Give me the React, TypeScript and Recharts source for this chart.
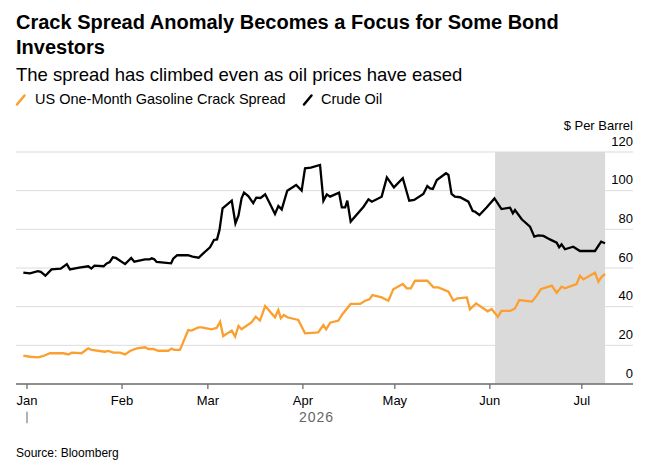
import React from "react";
import { LineChart, Line, XAxis, YAxis, CartesianGrid, ReferenceArea } from "recharts";

// x values are days since Jan 1, 2026
const crudeDays = [-1.2, 1, 3.5, 4.5, 6, 8, 11, 13, 14, 17, 20, 21, 22, 25, 26, 27, 28, 29, 32, 34, 35, 38.5, 40, 40.7, 41.5, 42.3, 47, 47.7, 49, 52.5, 54, 56, 57.5, 59.7, 61, 62, 62.8, 63.8, 66.8, 68, 69, 70, 70.8, 72.2, 73.8, 74.8, 76.2, 77.7, 79.3, 80.9, 82, 83.1, 84.9, 87.8, 89.6, 90.7, 92.6, 95.6, 96.7, 97.8, 98.9, 101.8, 102.7, 103.8, 104.5, 105.6, 109.8, 111.4, 112.5, 115.7, 117.4, 119.7, 122.6, 124.7, 126.3, 129.3, 130.6, 131.5, 132.4, 133.7, 136.7, 137.5, 138.5, 139.6, 141.3, 144, 145.4, 146.2, 147.6, 150, 152.5, 154.8, 157.6, 158.5, 159.2, 161.4, 164.1, 165.5, 166.8, 168.5, 170.6, 172.8, 173.6, 174.4, 175.5, 178.2, 180.4, 185.3, 187.3, 188.6];
const crudeValues = [57.6, 57.2, 58.4, 58.0, 56, 59.3, 59.7, 62, 59.3, 60.2, 60.9, 59.7, 61.2, 60.9, 62.4, 63.1, 65.5, 65.2, 62, 65.2, 63.3, 64.5, 64.5, 65, 64.5, 63.1, 62.4, 64.8, 66.6, 66.6, 65.9, 65.3, 67.6, 70.7, 74.5, 74.8, 79.7, 90.9, 94.8, 83.1, 87.2, 96, 99, 97.2, 93.6, 96.4, 96.2, 98.1, 93.1, 87.9, 92.1, 90.3, 100, 102.9, 100, 111.6, 111.9, 113.3, 94.8, 98.1, 96.9, 99, 91.4, 91.4, 94.8, 84, 91.7, 95.5, 94.3, 96.9, 106.9, 101.7, 106.4, 94.8, 95.2, 98.3, 102.4, 101.2, 100.9, 105.5, 109, 108.1, 98.3, 96.9, 96.6, 94.3, 89.5, 89.1, 87.4, 91.4, 96, 90.5, 91.2, 88.3, 90, 85.2, 81.4, 76.2, 76.9, 76.6, 74.8, 73.1, 70.7, 72.2, 69.7, 71, 68.8, 68.8, 73.6, 72.8];

const crackDays = [-1.2, 1, 3.7, 5.3, 7.5, 11.9, 13.5, 14.6, 17.8, 20, 21.1, 25.4, 26.5, 28.2, 30.3, 32, 33.6, 35.8, 38.5, 39.6, 41.2, 42.8, 46.1, 47.2, 48, 49.9, 52.6, 53.7, 55.9, 57, 60.2, 61.9, 63, 64, 66.8, 67.9, 69, 70, 73.3, 74.6, 76, 77.7, 80.9, 82, 82.8, 83.8, 84.9, 88.5, 90.7, 95, 96.7, 97.6, 98.9, 101.6, 102.9, 105.6, 108.7, 110.3, 111.7, 112.7, 115.7, 117.9, 119.5, 122.6, 123.9, 125.2, 126.6, 130.6, 132.6, 134.2, 137.5, 139.1, 140.4, 143.5, 144.5, 146.5, 150.3, 151.6, 153.6, 154.8, 157.6, 159.2, 160.6, 164.7, 166.3, 167.6, 171.2, 172.8, 174.4, 175.5, 179.3, 180.4, 181.5, 185.3, 186.4, 187.5, 188.6];
const crackValues = [14.7, 14.1, 13.8, 14.5, 15.9, 15.9, 15.3, 16.2, 15.9, 18.4, 17.6, 16.7, 17.1, 16.2, 16.2, 15.3, 17.1, 18.4, 19, 18.1, 18.1, 17.2, 17.2, 18.3, 17.6, 17.6, 27.9, 27.6, 29.3, 29.3, 28.3, 29.1, 32.2, 24.8, 27.6, 24.5, 30, 28.3, 32, 34.8, 32.8, 40.3, 34.5, 38.3, 34, 35.7, 34.5, 33.1, 26.2, 26.7, 30.5, 28.3, 31.7, 32.8, 36.1, 41.4, 41.4, 43.1, 43.8, 46, 44.8, 43.1, 49, 51.7, 49.5, 49.5, 53.4, 53.4, 50, 50, 47.8, 43.1, 44.3, 44.8, 38.6, 41.7, 37.6, 38.8, 34.8, 37.8, 37.8, 39.1, 43.4, 42.6, 45.7, 49, 50.9, 47.2, 50.3, 49.5, 51.7, 55.9, 54.1, 57.6, 52.9, 55.5, 56.9];

const monthTicks = [0, 31, 59, 90, 120, 151, 181];
const monthLabels = ["Jan", "Feb", "Mar", "Apr", "May", "Jun", "Jul"];
const yTicks = [0, 20, 40, 60, 80, 100, 120];
const shadeStart = 152.7;
const shadeEnd = 188.6;

const crudeData = crudeDays.map((d, i) => ({ day: d, v: crudeValues[i] }));
const crackData = crackDays.map((d, i) => ({ day: d, v: crackValues[i] }));

const FONT = '"Liberation Sans", Arial, Helvetica, sans-serif';
const ORANGE = "#fb9f2f";

const XTick = (props: any) => {
  const { x, y, payload } = props;
  const idx = monthTicks.indexOf(payload.value);
  return (
    <g>
      <text x={x} y={y + 16.3} textAnchor="middle" fontSize={13} fontFamily={FONT} fill="#000">
        {monthLabels[idx]}
      </text>
      {payload.value === 0 && (
        <line x1={x} x2={x} y1={y + 22.7} y2={y + 34.3} stroke="#999" strokeWidth={1.5} />
      )}
    </g>
  );
};

const YTick = (props: any) => {
  const { x, y, payload } = props;
  return (
    <text x={x} y={y - 6.5} textAnchor="end" fontSize={13} fontFamily={FONT} fill="#000">
      {payload.value}
    </text>
  );
};

export default function App() {
  return (
    <div style={{ position: "absolute", left: 0, top: 0, width: 654, height: 468, background: "#fff" }}>
      <div style={{ position: "absolute", left: 0, top: 0 }}>
        <LineChart width={654} height={468} margin={{ top: 152, right: 0, bottom: 54, left: 16 }}>
          <ReferenceArea x1={shadeStart} x2={shadeEnd} y1={0} y2={120} fill="#dadada" fillOpacity={1} stroke="none" ifOverflow="hidden" />
          <CartesianGrid vertical={false} stroke="#000" strokeOpacity={0.14} strokeWidth={1} />
          <XAxis
            type="number"
            dataKey="day"
            domain={[-3.589, 197.7]}
            allowDataOverflow
            ticks={monthTicks}
            tick={<XTick />}
            tickSize={5}
            tickMargin={0}
            height={30}
            axisLine={{ stroke: "#6e6e6e", strokeWidth: 1.6 }}
            tickLine={{ stroke: "#6e6e6e", strokeWidth: 1.3 }}
          />
          <YAxis
            orientation="right"
            domain={[0, 120]}
            ticks={yTicks}
            width={21}
            axisLine={false}
            tickLine={false}
            tickSize={0}
            tickMargin={0}
            tick={<YTick />}
          />
          <Line data={crackData} dataKey="v" type="linear" stroke={ORANGE} strokeWidth={2.3} dot={false} isAnimationActive={false} />
          <Line data={crudeData} dataKey="v" type="linear" stroke="#000" strokeWidth={2.3} dot={false} isAnimationActive={false} />
        </LineChart>
      </div>
      <svg width={654} height={468} style={{ position: "absolute", left: 0, top: 0, pointerEvents: "none" }}>
        <text x={16} y={29.2} fontSize={20} fontWeight="bold" fontFamily={FONT} fill="#000">
          Crack Spread Anomaly Becomes a Focus for Some Bond
        </text>
        <text x={16} y={54.2} fontSize={20} fontWeight="bold" fontFamily={FONT} fill="#000">
          Investors
        </text>
        <text x={16} y={80.6} fontSize={18.5} fontFamily={FONT} fill="#000">
          The spread has climbed even as oil prices have eased
        </text>
        <line x1={17} y1={104.5} x2={24.5} y2={95.5} stroke={ORANGE} strokeWidth={2.5} strokeLinecap="round" />
        <text x={35} y={104} fontSize={14.5} fontFamily={FONT} fill="#000">
          US One-Month Gasoline Crack Spread
        </text>
        <line x1={304} y1={104.5} x2={311.5} y2={95.5} stroke="#000" strokeWidth={2.5} strokeLinecap="round" />
        <text x={321} y={104} fontSize={14.5} fontFamily={FONT} fill="#000">
          Crude Oil
        </text>
        <text x={633} y={129.6} fontSize={13} textAnchor="end" fontFamily={FONT} fill="#000">
          $ Per Barrel
        </text>
        <text x={316.5} y={422} fontSize={14} textAnchor="middle" letterSpacing={1} fontFamily={FONT} fill="#666">
          2026
        </text>
        <text x={16} y={457.3} fontSize={12} fontFamily={FONT} fill="#000">
          Source: Bloomberg
        </text>
      </svg>
    </div>
  );
}
